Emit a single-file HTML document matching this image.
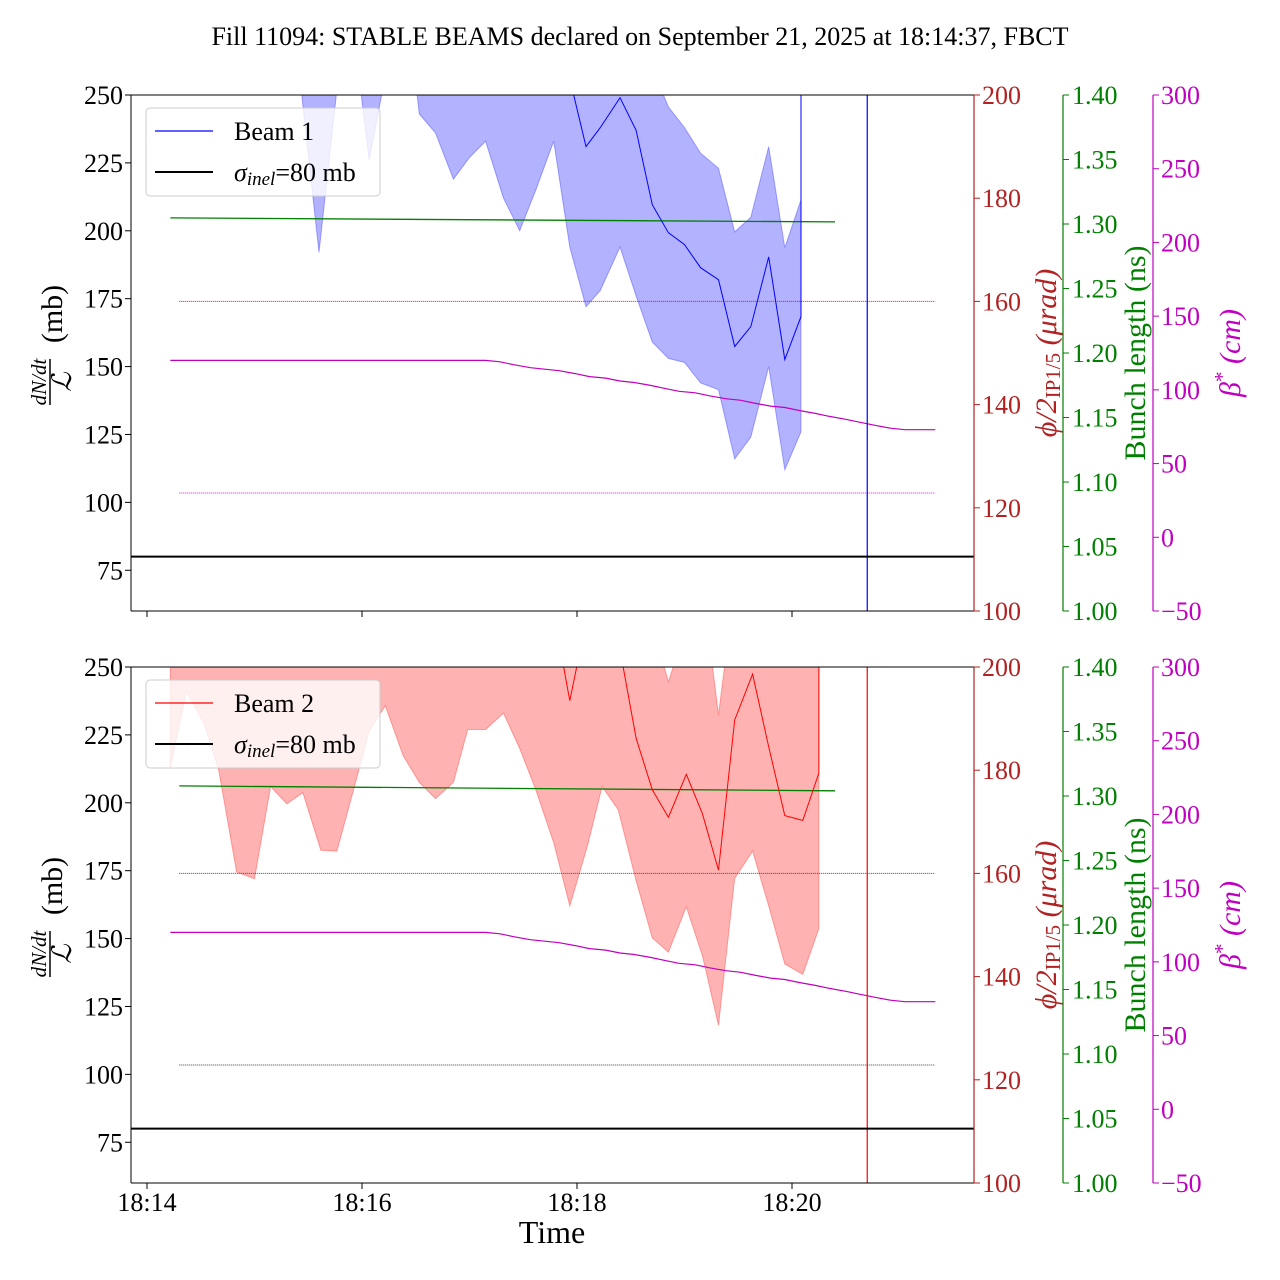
<!DOCTYPE html>
<html><head><meta charset="utf-8"><title>Fill 11094 FBCT</title>
<style>
html,body{margin:0;padding:0;background:#fff;}
svg{display:block;font-family:"Liberation Serif",serif;}
</style></head>
<body>
<svg id="chart" width="1280" height="1280" viewBox="0 0 1280 1280" xmlns="http://www.w3.org/2000/svg">
<text x="640" y="45" font-size="26" text-anchor="middle" fill="#000">Fill 11094: STABLE BEAMS declared on September 21, 2025 at 18:14:37, FBCT</text>
</svg>
<script>
// ---- data (time = seconds after 18:14:00) ----
const timeTicks = [0, 120, 240, 360];
const timeTickLabels = ["18:14", "18:16", "18:18", "18:20"];
const leftTicks = [75, 100, 125, 150, 175, 200, 225, 250];
const angleTicks = [100, 120, 140, 160, 180, 200];
const bunchTicks = [1.00, 1.05, 1.10, 1.15, 1.20, 1.25, 1.30, 1.35, 1.40];
const betaTicks = [-50, 0, 50, 100, 150, 200, 250, 300];

const b1Time = [13,78,96,106,114,124,133,142,152,161,171,180,189,199,208,217,227,236,245,253,264,273,282,291,300,309,319,328,337,347,356,365];
const b1Lower = [300,300,192,252,280,226,257,300,243,236,219,227,233,212,200,215,233,194,172,178,194,176,159,153,151.5,144,141.5,116,124,150,112,126];
const b1Upper = [300,300,300,300,300,300,300,300,300,300,300,300,300,300,300,300,300,300,300,300,300,300,260,245.6,238,228.6,223,199.6,205,231,193.8,211.4];
const b1Line = [270,270,270,270,270,270,270,270,270,270,270,270,270,270,270,270,270,256,231,238,249,237,209.6,199.3,194.9,186.4,182,157.4,164.7,190.4,152.6,168.4];

const b2Time = [13,22,32,40,50,60,69,78,87,97,106,115,124,133,143,152,161,171,179,189,199,208,217,227,236,246,254,263,273,282,291,301,310,319,328,338,347,356,366,375];
const b2Lower = [213,241,229,212,174.5,172,206,199.6,203.7,182.5,182.2,204,226.5,235.7,217.3,207.5,201.5,207.5,227,227,233,220,204.8,185.3,162,184.6,206,197.4,171.3,150.2,145,161.7,143.7,118,172.2,182.2,162,140.6,136.8,153.7];
const b2Upper = [300,300,300,300,300,300,300,300,300,300,300,300,300,300,300,300,300,300,300,300,300,300,300,300,300,300,300,300,300,265,244.6,265,280,232.4,280,300,300,300,300,300];
const b2Line = [270,270,270,270,270,270,270,270,270,270,270,270,270,270,270,270,270,270,270,270,270,270,270,270,237.6,270,270,260,223.8,204.8,194.7,210.5,196,175.2,230.5,247.4,220.6,195.3,193.5,211];

const bunchTime1 = [13, 384];
const bunchVals1 = [1.3047, 1.3016];
const bunchTime2 = [18, 384];
const bunchVals2 = [1.3078, 1.3040];

const betaTime = [13,189,197,205,214,222,230,239,247,256,264,272,281,289,297,306,314,323,331,339,348,356,364,373,381,390,398,406,415,423,440];
const betaVals = [120,120,119,117,115,114,113,111,109,108,106,105,103,101,99,98,96,94,93,91,89,88,86,84,82,80,78,76,74,73,73];

const targetTimes = [18, 440];
const targetAngle = 160;
const targetBeta = 30;
const sigmaInel = 80;
const endTime = 402;

// ---- layout ----
const svg = document.getElementById('chart');
const NS = 'http://www.w3.org/2000/svg';
const XL = 131, XR = 974, H = 516;
const RED = '#b22222', GREEN = '#008000', MAG = '#c000c0';
function xT(s){ return 147 + s * 107.5 / 60; }
function el(tag, attrs, parent){
  const e = document.createElementNS(NS, tag);
  for (const k in attrs) e.setAttribute(k, attrs[k]);
  (parent || svg).appendChild(e);
  return e;
}
function txt(str, attrs, parent){ const t = el('text', attrs, parent); t.textContent = str; return t; }

const panels = [
  {top:95, name:'beam-1', color:'#0000ff', fill:'rgba(0,0,255,0.3)', label:'Beam 1', t:b1Time, lo:b1Lower, up:b1Upper, ln:b1Line, bt:bunchTime1, bv:bunchVals1, dotColor:null},
  {top:667, name:'beam-2', color:'#ff0000', fill:'rgba(255,0,0,0.3)', label:'Beam 2', t:b2Time, lo:b2Lower, up:b2Upper, ln:b2Line, bt:bunchTime2, bv:bunchVals2, dotColor:'#444'}
];

panels.forEach((p, pi) => {
  const top = p.top, bot = top + H;
  const yL = v => top + (250 - v) * H / 190;
  const yA = v => bot - (v - 100) * H / 100;
  const yB = v => bot - (v - 1.0) * H / 0.4;
  const yM = v => bot - (v + 50) * H / 350;
  const g = el('g', {});
  
  
  const cid = 'clip' + pi;
  const cp = el('clipPath', {id: cid}, g);
  el('rect', {x: XL, y: top, width: XR - XL, height: H}, cp);
  const plot = el('g', {'clip-path': 'url(#' + cid + ')'}, g);

  let d = '';
  p.t.forEach((s, i) => { d += (i ? 'L' : 'M') + xT(s).toFixed(1) + ',' + yL(p.up[i]).toFixed(1); });
  for (let i = p.t.length - 1; i >= 0; i--) d += 'L' + xT(p.t[i]).toFixed(1) + ',' + yL(p.lo[i]).toFixed(1);
  const band = el('path', {d: d + 'Z', fill: p.fill, stroke: p.fill, 'stroke-width': 1}, plot);
  
  

  const dc1 = p.dotColor || '#ff0000', dc2 = p.dotColor || '#ff00ff';
  const ta = el('line', {x1: xT(targetTimes[0]), x2: xT(targetTimes[1]), y1: yA(targetAngle), y2: yA(targetAngle), stroke: dc1, 'stroke-width': 1, 'stroke-dasharray': '1,1'}, plot);
  
  
  const tb = el('line', {x1: xT(targetTimes[0]), x2: xT(targetTimes[1]), y1: yM(targetBeta), y2: yM(targetBeta), stroke: dc2, 'stroke-width': 1, 'stroke-dasharray': '1,1'}, plot);
  
  

  let gd = '';
  p.bt.forEach((s, i) => { gd += (i ? 'L' : 'M') + xT(s).toFixed(1) + ',' + yB(p.bv[i]).toFixed(1); });
  const gl = el('path', {d: gd, fill: 'none', stroke: GREEN, 'stroke-width': 1.3}, plot);
  
  

  let md = '';
  betaTime.forEach((s, i) => { md += (i ? 'L' : 'M') + xT(s).toFixed(1) + ',' + yM(betaVals[i]).toFixed(1); });
  const ml = el('path', {d: md, fill: 'none', stroke: MAG, 'stroke-width': 1.2}, plot);
  
  

  let ld = '';
  p.t.forEach((s, i) => { ld += (i ? 'L' : 'M') + xT(s).toFixed(1) + ',' + yL(p.ln[i]).toFixed(1); });
  ld += 'L' + xT(p.t[p.t.length-1]).toFixed(1) + ',' + (top - 5);
  const bl = el('path', {d: ld, fill: 'none', stroke: p.color, 'stroke-width': 1}, plot);
  
  

  const em = el('line', {x1: xT(endTime), x2: xT(endTime), y1: top, y2: bot, stroke: p.color, 'stroke-width': 1.2}, plot);
  
  

  const sl = el('line', {x1: XL, x2: XR, y1: yL(sigmaInel), y2: yL(sigmaInel), stroke: '#000', 'stroke-width': 2}, plot);
  
  

  el('line', {x1: XL, x2: XR, y1: top, y2: top, stroke: '#000', 'stroke-width': 1}, g);
  el('line', {x1: XL, x2: XR, y1: bot, y2: bot, stroke: '#000', 'stroke-width': 1}, g);
  el('line', {x1: XL, x2: XL, y1: top, y2: bot, stroke: '#000', 'stroke-width': 1}, g);
  el('line', {x1: XR, x2: XR, y1: top, y2: bot, stroke: RED, 'stroke-width': 1.2}, g);
  el('line', {x1: 1063, x2: 1063, y1: top, y2: bot, stroke: GREEN, 'stroke-width': 1.2}, g);
  el('line', {x1: 1153, x2: 1153, y1: top, y2: bot, stroke: MAG, 'stroke-width': 1.2}, g);

  leftTicks.forEach(v => {
    const y = yL(v);
    el('line', {x1: XL - 6, x2: XL, y1: y, y2: y, stroke: '#000'}, g);
    const t = txt(String(v), {x: XL - 8, y: y + 9, 'font-size': 26, 'text-anchor': 'end', fill: '#000'}, g);
    
    
  });
  angleTicks.forEach(v => {
    const y = yA(v);
    el('line', {x1: XR, x2: XR + 6, y1: y, y2: y, stroke: RED}, g);
    const t = txt(String(v), {x: XR + 8, y: y + 9, 'font-size': 26, fill: RED}, g);
    
    
  });
  bunchTicks.forEach(v => {
    const y = yB(v);
    el('line', {x1: 1063, x2: 1069, y1: y, y2: y, stroke: GREEN}, g);
    const t = txt(v.toFixed(2), {x: 1072, y: y + 9, 'font-size': 26, fill: GREEN}, g);
    
    
  });
  betaTicks.forEach(v => {
    const y = yM(v);
    el('line', {x1: 1153, x2: 1159, y1: y, y2: y, stroke: MAG}, g);
    const t = txt(v < 0 ? '\u2212' + Math.abs(v) : String(v), {x: 1161, y: y + 9, 'font-size': 26, fill: MAG}, g);
    
    
  });
  timeTicks.forEach((s, i) => {
    el('line', {x1: xT(s), x2: xT(s), y1: bot, y2: bot + 6, stroke: '#000'}, g);
    if (pi === 1) {
      const t = txt(timeTickLabels[i], {x: xT(s), y: bot + 28, 'font-size': 26, 'text-anchor': 'middle', fill: '#000'}, g);
      
      
    }
  });

  const cy = top + H / 2;
  const yl = el('g', {transform: 'translate(50,' + cy + ') rotate(-90)'}, g);
  
  
  txt('(mb)', {x: 39, y: 12, 'font-size': 30, 'text-anchor': 'middle'}, yl);
  txt('dN/dt', {x: -29, y: -4, 'font-size': 21, 'font-style': 'italic', 'text-anchor': 'middle'}, yl);
  el('line', {x1: -52, x2: -6, y1: 0, y2: 0, stroke: '#000', 'stroke-width': 1.5}, yl);
  txt('\u2112', {x: -29, y: 21, 'font-size': 27, 'font-style': 'italic', 'text-anchor': 'middle'}, yl);

  const rl = el('g', {transform: 'translate(1056,' + cy + ') rotate(-90)'}, g);
  
  
  const rt = txt('', {x: 0, y: 0, 'font-size': 30, 'text-anchor': 'middle', fill: RED}, rl);
  const s1 = document.createElementNS(NS, 'tspan'); s1.setAttribute('font-style', 'italic'); s1.textContent = '\u03d5/2'; rt.appendChild(s1);
  const s2 = document.createElementNS(NS, 'tspan'); s2.setAttribute('font-size', '21'); s2.setAttribute('dy', '4'); s2.textContent = 'IP1/5'; rt.appendChild(s2);
  const s3 = document.createElementNS(NS, 'tspan'); s3.setAttribute('dy', '-4'); s3.setAttribute('font-style', 'italic'); s3.textContent = ' (\u03bcrad)'; rt.appendChild(s3);

  const bt = txt('Bunch length (ns)', {x: 0, y: 0, 'font-size': 30, 'text-anchor': 'middle', fill: GREEN, transform: 'translate(1145,' + cy + ') rotate(-90)'}, g);
  
  
  const mt = txt('', {x: 0, y: 0, 'font-size': 30, 'text-anchor': 'middle', fill: MAG, transform: 'translate(1240,' + cy + ') rotate(-90)'}, g);
  
  
  const m1 = document.createElementNS(NS, 'tspan'); m1.setAttribute('font-style', 'italic'); m1.textContent = '\u03b2'; mt.appendChild(m1);
  const m2 = document.createElementNS(NS, 'tspan'); m2.setAttribute('font-size', '21'); m2.setAttribute('dy', '-11'); m2.textContent = '*'; mt.appendChild(m2);
  const m3 = document.createElementNS(NS, 'tspan'); m3.setAttribute('dy', '11'); m3.setAttribute('font-style', 'italic'); m3.textContent = ' (cm)'; mt.appendChild(m3);

  const lg = el('g', {}, g);
  
  
  el('rect', {x: 146, y: top + 13, width: 234, height: 88, rx: 4, fill: 'rgba(255,255,255,0.8)', stroke: '#ccc'}, lg);
  el('line', {x1: 155, x2: 213, y1: top + 36, y2: top + 36, stroke: p.color, 'stroke-width': 1.2}, lg);
  const le1 = txt(p.label, {x: 234, y: top + 45, 'font-size': 26}, lg);
  
  
  el('line', {x1: 155, x2: 213, y1: top + 77, y2: top + 77, stroke: '#000', 'stroke-width': 2}, lg);
  const le2 = txt('', {x: 234, y: top + 86, 'font-size': 26}, lg);
  
  
  const q1 = document.createElementNS(NS, 'tspan'); q1.setAttribute('font-style', 'italic'); q1.textContent = '\u03c3'; le2.appendChild(q1);
  const q2 = document.createElementNS(NS, 'tspan'); q2.setAttribute('font-style', 'italic'); q2.setAttribute('font-size', '19'); q2.setAttribute('dy', '4'); q2.textContent = 'inel'; le2.appendChild(q2);
  const q3 = document.createElementNS(NS, 'tspan'); q3.setAttribute('dy', '-4'); q3.textContent = '=80 mb'; le2.appendChild(q3);
});

const xt = txt('Time', {x: 552, y: 1243, 'font-size': 32, 'text-anchor': 'middle', fill: '#000'});


</script>
</body></html>
